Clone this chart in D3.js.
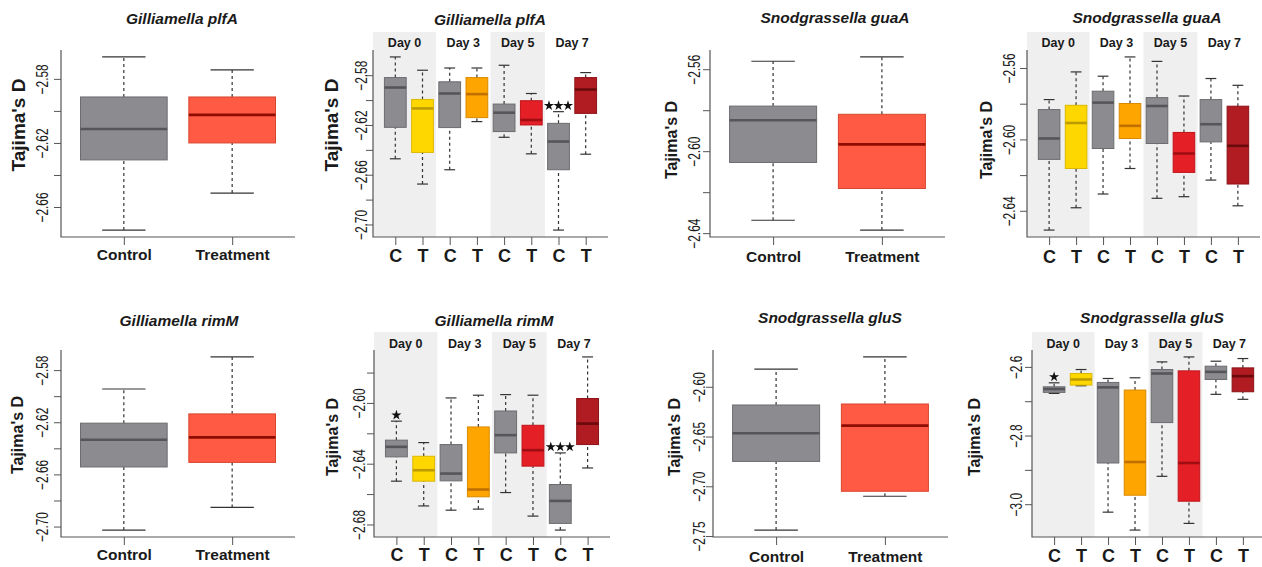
<!DOCTYPE html>
<html>
<head>
<meta charset="utf-8">
<script src="https://cdn.jsdelivr.net/npm/d3@7"></script>
<style>
body { margin: 0; background: #fff; }
text { font-family: "Liberation Sans", Arial, Helvetica, sans-serif; fill: #1a1a1a; }
</style>
</head>
<body>
<svg id="chart" width="1262" height="567"></svg>
<script>
// box summaries are [lower whisker, Q1, median, Q3, upper whisker]
const pooledLabels = ["Control", "Treatment"];
const dayLabels = ["C", "T", "C", "T", "C", "T", "C", "T"];
const days = ["Day 0", "Day 3", "Day 5", "Day 7"];

const plfA_pooled = [
  [-2.6744, -2.6306, -2.6113, -2.5913, -2.5663],
  [-2.6513, -2.6200, -2.6025, -2.5913, -2.5744]
];
const plfA_byDay = [
  [-2.6472, -2.6219, -2.5899, -2.5819, -2.5653],
  [-2.6675, -2.6421, -2.6067, -2.5995, -2.5760],
  [-2.6560, -2.6221, -2.5947, -2.5853, -2.5742],
  [-2.6173, -2.6141, -2.5952, -2.5819, -2.5742],
  [-2.6299, -2.6253, -2.6101, -2.6032, -2.5720],
  [-2.6432, -2.6200, -2.6160, -2.6005, -2.5947],
  [-2.7045, -2.6560, -2.6333, -2.6187, -2.6093],
  [-2.6435, -2.6107, -2.5915, -2.5819, -2.5779]
];
const guaA_pooled = [
  [-2.6337, -2.6055, -2.5849, -2.5780, -2.5561],
  [-2.6385, -2.6182, -2.5967, -2.5820, -2.5540]
];
const guaA_byDay = [
  [-2.6508, -2.6112, -2.5995, -2.5833, -2.5777],
  [-2.6383, -2.6163, -2.5908, -2.5809, -2.5622],
  [-2.6306, -2.6051, -2.5794, -2.5730, -2.5646],
  [-2.6163, -2.5995, -2.5924, -2.5799, -2.5538],
  [-2.6330, -2.6023, -2.5813, -2.5766, -2.5563],
  [-2.6321, -2.6185, -2.6079, -2.5961, -2.5757],
  [-2.6228, -2.6014, -2.5915, -2.5777, -2.5659],
  [-2.6372, -2.6250, -2.6036, -2.5814, -2.5697]
];
const rimM_pooled = [
  [-2.7027, -2.6543, -2.6334, -2.6207, -2.5945],
  [-2.6853, -2.6508, -2.6316, -2.6136, -2.5699]
];
const rimM_byDay = [
  [-2.6515, -2.6355, -2.6289, -2.6245, -2.6120],
  [-2.6678, -2.6515, -2.6443, -2.6351, -2.6261],
  [-2.6706, -2.6513, -2.6465, -2.6274, -2.5967],
  [-2.6699, -2.6618, -2.6570, -2.6158, -2.5949],
  [-2.6590, -2.6329, -2.6212, -2.6053, -2.5945],
  [-2.6745, -2.6416, -2.6311, -2.6147, -2.5949],
  [-2.6837, -2.6793, -2.6645, -2.6537, -2.6329],
  [-2.6428, -2.6274, -2.6136, -2.5971, -2.5697]
];
const gluS_pooled = [
  [-2.7440, -2.6750, -2.6467, -2.6183, -2.5823],
  [-2.7100, -2.7050, -2.6390, -2.6173, -2.5700]
];
const gluS_byDay = [
  [-2.6772, -2.6743, -2.6646, -2.6580, -2.6464],
  [-2.6550, -2.6530, -2.6367, -2.6193, -2.6077],
  [-3.0232, -2.8800, -2.6597, -2.6453, -2.6338],
  [-3.0754, -2.9739, -2.8771, -2.6675, -2.6318],
  [-2.9188, -2.7623, -2.6193, -2.6077, -2.5855],
  [-3.0560, -2.9913, -2.8800, -2.6116, -2.5710],
  [-2.6800, -2.6367, -2.6145, -2.5980, -2.5835],
  [-2.6945, -2.6725, -2.6270, -2.6029, -2.5757]
];

// y ticks and which of them carry a label
const ticks_plfA_pooled = [-2.58, -2.60, -2.62, -2.64, -2.66];
const labels_plfA_pooled = [-2.58, -2.62, -2.66];
const ticks_plfA_byDay = [-2.58, -2.60, -2.62, -2.64, -2.66, -2.68, -2.70];
const labels_plfA_byDay = [-2.58, -2.62, -2.66, -2.70];
const ticks_guaA = [-2.56, -2.58, -2.60, -2.62, -2.64];
const labels_guaA = [-2.56, -2.60, -2.64];
const ticks_rimM_pooled = [-2.58, -2.60, -2.62, -2.64, -2.66, -2.68, -2.70];
const labels_rimM_pooled = [-2.58, -2.62, -2.66, -2.70];
const ticks_rimM_byDay = [-2.58, -2.60, -2.62, -2.64, -2.66, -2.68];
const labels_rimM_byDay = [-2.60, -2.64, -2.68];
const ticks_gluS_pooled = [-2.60, -2.65, -2.70, -2.75];
const ticks_gluS_byDay = [-2.6, -2.7, -2.8, -2.9, -3.0];
const labels_gluS_byDay = [-2.6, -2.8, -3.0];

// significance marks: group index (0-based) and number of stars
const stars_plfA = [{group: 6, count: 3}];
const stars_rimM = [{group: 0, count: 1}, {group: 6, count: 3}];
const stars_gluS = [{group: 0, count: 1}];

// colours
const controlFill = "#8c8c90", controlStroke = "#6c6c70", controlMed = "#56565a";
const treatFill = "#ff5a44", treatStroke = "#d9462f", treatMed = "#8e0c02";
const dayFill = ["#ffd700", "#ffa500", "#e41f26", "#b01c22"];
const dayStroke = ["#dcb800", "#d98a00", "#c0141b", "#8c1318"];
const dayMed = ["#bc9c00", "#c07000", "#a00d12", "#6a0a0c"];

const panels = [
  {title: "Gilliamella plfA", stats: plfA_pooled, xl: pooledLabels, ticks: ticks_plfA_pooled, tl: labels_plfA_pooled, fmt: ".2f", stars: [],
   L: 61, R: 295, T: 50, B: 237, tx: 182, ty: 24, yx: 25, yy: 125, ys: 19, toff: 13, ly: 260},
  {title: "Gilliamella plfA", stats: plfA_byDay, xl: dayLabels, ticks: ticks_plfA_byDay, tl: labels_plfA_byDay, fmt: ".2f", stars: stars_plfA,
   L: 373, R: 608, T: 50, B: 237, tx: 490, ty: 25, yx: 338, yy: 125, ys: 19, toff: 6, ly: 262, bandTop: 32, dayY: 47},
  {title: "Snodgrassella guaA", stats: guaA_pooled, xl: pooledLabels, ticks: ticks_guaA, tl: labels_guaA, fmt: ".2f", stars: [],
   L: 710, R: 945, T: 50, B: 237, tx: 835, ty: 23, yx: 677, yy: 140, ys: 16, toff: 10, ly: 262},
  {title: "Snodgrassella guaA", stats: guaA_byDay, xl: dayLabels, ticks: ticks_guaA, tl: labels_guaA, fmt: ".2f", stars: [],
   L: 1027, R: 1260, T: 50, B: 237, tx: 1147, ty: 23, yx: 992, yy: 140, ys: 16, toff: 12, ly: 263, bandTop: 32, dayY: 47},
  {title: "Gilliamella rimM", stats: rimM_pooled, xl: pooledLabels, ticks: ticks_rimM_pooled, tl: labels_rimM_pooled, fmt: ".2f", stars: [],
   L: 61, R: 295, T: 350, B: 537, tx: 179, ty: 326, yx: 23, yy: 435, ys: 16, toff: 13, ly: 560},
  {title: "Gilliamella rimM", stats: rimM_byDay, xl: dayLabels, ticks: ticks_rimM_byDay, tl: labels_rimM_byDay, fmt: ".2f", stars: stars_rimM,
   L: 374, R: 610, T: 350, B: 537, tx: 494, ty: 326, yx: 338, yy: 437, ys: 16, toff: 9, ly: 561, bandTop: 332, dayY: 348},
  {title: "Snodgrassella gluS", stats: gluS_pooled, xl: pooledLabels, ticks: ticks_gluS_pooled, tl: ticks_gluS_pooled, fmt: ".2f", stars: [],
   L: 713, R: 948, T: 350, B: 537, tx: 830, ty: 323, yx: 680, yy: 437, ys: 16, toff: 8, ly: 562},
  {title: "Snodgrassella gluS", stats: gluS_byDay, xl: dayLabels, ticks: ticks_gluS_byDay, tl: labels_gluS_byDay, fmt: ".1f", stars: stars_gluS,
   L: 1032, R: 1265, T: 350, B: 537, tx: 1152, ty: 323, yx: 980, yy: 437, ys: 16, toff: 10, ly: 562, bandTop: 332, dayY: 348}
];

const svg = d3.select("#chart");

panels.forEach(function(p) {
  var n = p.stats.length;
  var byDay = n === 8;
  // R style limits: 4% padding on both axes
  var x = d3.scaleLinear()
    .domain([0.5 - 0.04 * n, n + 0.5 + 0.04 * n])
    .range([p.L, p.R]);
  var lo = d3.min(p.stats, d => d[0]), hi = d3.max(p.stats, d => d[4]);
  var pad = (hi - lo) * 0.04;
  var y = d3.scaleLinear().domain([lo - pad, hi + pad]).range([p.B, p.T]);

  var g = svg.append("g");

  // alternating day bands (Day 0 and Day 5 shaded)
  if (byDay) {
    var bands = [[x.domain()[0], 2.5], [2.5, 4.5], [4.5, 6.5], [6.5, 8.5]];
    g.selectAll(".band").data(bands.filter((b, i) => i % 2 === 0))
      .join("rect")
      .attr("x", d => x(d[0]))
      .attr("width", d => x(d[1]) - x(d[0]))
      .attr("y", p.bandTop)
      .attr("height", p.B - p.bandTop)
      .attr("fill", "#efefef");
    g.selectAll(".day").data(days)
      .join("text")
      .attr("x", (d, i) => x((bands[i][0] + bands[i][1]) / 2))
      .attr("y", p.dayY)
      .attr("text-anchor", "middle")
      .attr("font-weight", "bold")
      .attr("font-size", 12.5)
      .text(d => d);
  }

  var fillOf = function(i) {
    if (i % 2 === 0) return controlFill;
    return byDay ? dayFill[(i - 1) / 2] : treatFill;
  };
  var strokeOf = function(i) {
    if (i % 2 === 0) return controlStroke;
    return byDay ? dayStroke[(i - 1) / 2] : treatStroke;
  };
  var medOf = function(i) {
    if (i % 2 === 0) return controlMed;
    return byDay ? dayMed[(i - 1) / 2] : treatMed;
  };

  var bw = x(0.4) - x(0); // half of boxwex 0.8
  var sw = bw / 2;          // staple is half the box width

  var boxes = g.selectAll(".box").data(p.stats).join("g")
    .attr("transform", (d, i) => "translate(" + x(i + 1) + ",0)");

  boxes.append("line")
    .attr("y1", d => y(d[0])).attr("y2", d => y(d[1]))
    .attr("stroke", "#333").attr("stroke-width", 1.2).attr("stroke-dasharray", "3,3");
  boxes.append("line")
    .attr("y1", d => y(d[3])).attr("y2", d => y(d[4]))
    .attr("stroke", "#333").attr("stroke-width", 1.2).attr("stroke-dasharray", "3,3");
  boxes.append("line")
    .attr("x1", -sw).attr("x2", sw)
    .attr("y1", d => y(d[0])).attr("y2", d => y(d[0]))
    .attr("stroke", "#333").attr("stroke-width", 1.2);
  boxes.append("line")
    .attr("x1", -sw).attr("x2", sw)
    .attr("y1", d => y(d[4])).attr("y2", d => y(d[4]))
    .attr("stroke", "#333").attr("stroke-width", 1.2);
  boxes.append("rect")
    .attr("x", -bw).attr("width", 2 * bw)
    .attr("y", d => y(d[3]))
    .attr("height", d => y(d[1]) - y(d[3]))
    .attr("fill", (d, i) => fillOf(i))
    .attr("stroke", (d, i) => strokeOf(i))
    .attr("stroke-width", 1);
  boxes.append("line")
    .attr("x1", -bw).attr("x2", bw)
    .attr("y1", d => y(d[2])).attr("y2", d => y(d[2]))
    .attr("stroke", (d, i) => medOf(i))
    .attr("stroke-width", 2.6);

  // stars above the upper whisker
  p.stars.forEach(function(s) {
    var cx = x(s.group + 1), cy = y(p.stats[s.group][4]) - 6;
    g.selectAll(null).data(d3.range(s.count)).join("path")
      .attr("d", d3.symbol(d3.symbolStar, 32))
      .attr("transform", k => "translate(" + (cx + (k - (s.count - 1) / 2) * 9.5) + "," + cy + ")")
      .attr("fill", "#111");
  });

  // y axis
  var fmt = d3.format(p.fmt);
  var yAxis = g.append("g")
    .attr("transform", "translate(" + p.L + ",0)")
    .call(d3.axisLeft(y).tickValues(p.ticks).tickSize(7)
      .tickFormat(d => p.tl.some(v => Math.abs(v - d) < 1e-9) ? fmt(d) : ""));
  yAxis.select(".domain").remove();
  yAxis.selectAll(".tick line").attr("stroke", "#555");
  yAxis.selectAll(".tick text")
    .attr("x", null).attr("dy", null)
    .attr("transform", "translate(" + (-p.toff) + ",0) rotate(-90) scale(0.7,1)")
    .attr("text-anchor", "middle")
    .attr("font-size", 17)
    .attr("font-family", "Liberation Sans, Arial, sans-serif")
    .attr("fill", "#1e1e1e");

  // x axis
  var xAxis = g.append("g")
    .attr("transform", "translate(0," + p.B + ")")
    .call(d3.axisBottom(x).tickValues(d3.range(1, n + 1)).tickSize(8)
      .tickFormat(i => p.xl[i - 1]));
  xAxis.select(".domain").remove();
  xAxis.selectAll(".tick line").attr("stroke", "#555");
  xAxis.selectAll(".tick text")
    .attr("y", p.ly - p.B).attr("dy", null)
    .attr("font-size", byDay ? 18 : 15.5)
    .attr("font-weight", "bold")
    .attr("font-family", "Liberation Sans, Arial, sans-serif")
    .attr("fill", "#1a1a1a");

  // L-shaped frame
  g.append("path")
    .attr("d", "M" + p.L + "," + p.T + "V" + p.B + "H" + p.R)
    .attr("fill", "none")
    .attr("stroke", "#555")
    .attr("stroke-width", 1.2);

  // title and y label
  g.append("text")
    .attr("x", p.tx).attr("y", p.ty)
    .attr("text-anchor", "middle")
    .attr("font-size", 15.5)
    .attr("font-weight", "bold")
    .attr("font-style", "italic")
    .text(p.title);
  g.append("text")
    .attr("transform", "translate(" + p.yx + "," + p.yy + ") rotate(-90)")
    .attr("text-anchor", "middle")
    .attr("font-size", p.ys)
    .attr("font-weight", "bold")
    .text("Tajima's D");
});
</script>
</body>
</html>
